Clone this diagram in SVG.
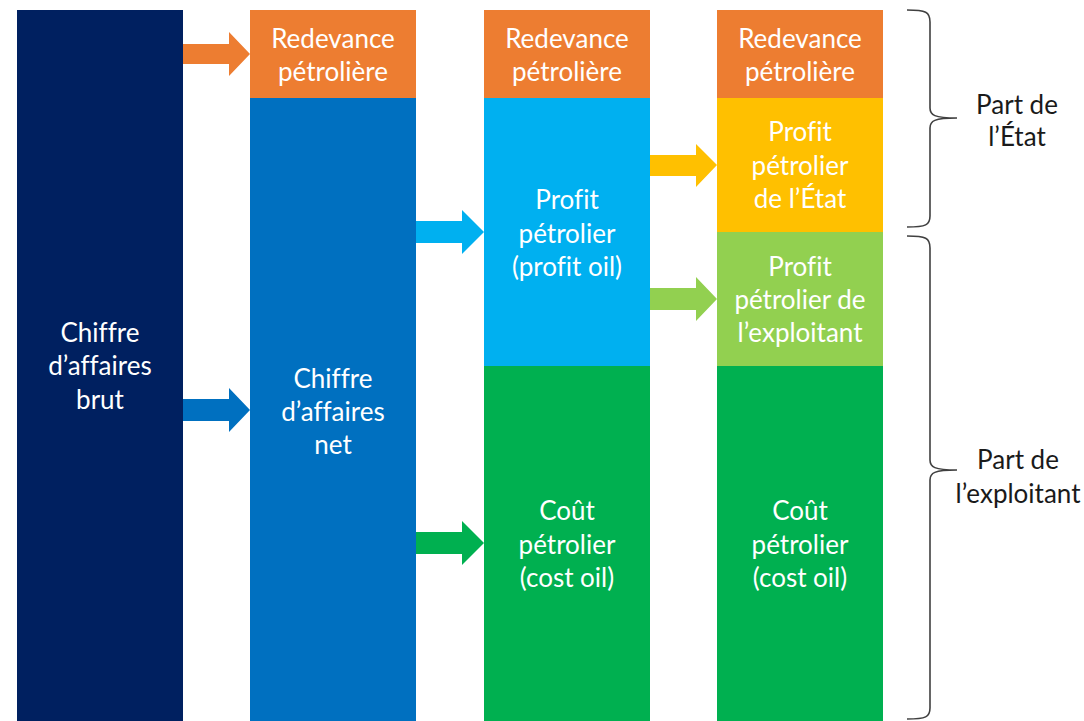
<svg xmlns="http://www.w3.org/2000/svg" width="1084" height="721" viewBox="0 0 1084 721">
<style>
.t{font-family:Lato,"Open Sans","Liberation Sans",sans-serif;font-size:26px;fill:#ffffff;text-anchor:middle;font-variant-ligatures:none}
.k{font-family:Lato,"Open Sans","Liberation Sans",sans-serif;font-size:26px;fill:#1a1a1a;text-anchor:middle}
.br{fill:none;stroke:#404040;stroke-width:1.6}
</style>
<rect width="1084" height="721" fill="#ffffff"/>
<g id="col1">
<rect x="17" y="10" width="166" height="711" fill="#002060"/>
<text class="t" x="100" y="342">Chiffre</text>
<text class="t" x="100" y="375">d’affaires</text>
<text class="t" x="100" y="409">brut</text>
</g>
<g id="col2-redevance">
<rect x="250" y="10" width="166" height="88" fill="#ED7D31"/>
<text class="t" x="333" y="48">Redevance</text>
<text class="t" x="333" y="81">pétrolière</text>
</g>
<g id="col2-net">
<rect x="250" y="98" width="166" height="623" fill="#0070C0"/>
<text class="t" x="333" y="388">Chiffre</text>
<text class="t" x="333" y="421">d’affaires</text>
<text class="t" x="333" y="454">net</text>
</g>
<g id="col3-redevance">
<rect x="484" y="10" width="166" height="88" fill="#ED7D31"/>
<text class="t" x="567" y="48">Redevance</text>
<text class="t" x="567" y="81">pétrolière</text>
</g>
<g id="col3-profit">
<rect x="484" y="98" width="166" height="268" fill="#00B0F0"/>
<text class="t" x="567" y="209">Profit</text>
<text class="t" x="567" y="243">pétrolier</text>
<text class="t" x="567" y="276">(profit oil)</text>
</g>
<g id="col3-cost">
<rect x="484" y="366" width="166" height="355" fill="#00B050"/>
<text class="t" x="567" y="520">Coût</text>
<text class="t" x="567" y="554">pétrolier</text>
<text class="t" x="567" y="587">(cost oil)</text>
</g>
<g id="col4-redevance">
<rect x="717" y="10" width="166" height="88" fill="#ED7D31"/>
<text class="t" x="800" y="48">Redevance</text>
<text class="t" x="800" y="81">pétrolière</text>
</g>
<g id="col4-etat">
<rect x="717" y="98" width="166" height="134" fill="#FFC000"/>
<text class="t" x="800" y="141">Profit</text>
<text class="t" x="800" y="175">pétrolier</text>
<text class="t" x="800" y="208">de l’État</text>
</g>
<g id="col4-exploitant">
<rect x="717" y="232" width="166" height="134" fill="#92D050"/>
<text class="t" x="800" y="276">Profit</text>
<text class="t" x="800" y="309">pétrolier de</text>
<text class="t" x="800" y="342">l’exploitant</text>
</g>
<g id="col4-cost">
<rect x="717" y="366" width="166" height="355" fill="#00B050"/>
<text class="t" x="800" y="520">Coût</text>
<text class="t" x="800" y="554">pétrolier</text>
<text class="t" x="800" y="587">(cost oil)</text>
</g>
<g id="connectors">
<polygon points="183,44 229,44 229,32 250,54 229,76 229,64 183,64" fill="#ED7D31"/>
<polygon points="183,399 229,399 229,388 250,410 229,432 229,421 183,421" fill="#0070C0"/>
<polygon points="416,221 462,221 462,210 484,232 462,254 462,243 416,243" fill="#00B0F0"/>
<polygon points="416,532 462,532 462,521 484,543 462,565 462,554 416,554" fill="#00B050"/>
<polygon points="650,155 696,155 696,144 717,165 696,187 696,176 650,176" fill="#FFC000"/>
<polygon points="650,288 696,288 696,277 717,299 696,321 696,310 650,310" fill="#92D050"/>
</g>
<g id="brace-etat">
<path class="br" d="M907,10 C926,10 930,12 930,22 L930,108 C930,115 934,118 957,118 C934,118 930,121 930,128 L930,216 C930,225 926,227 907,227"/>
<text class="k" x="1017" y="114">Part de</text>
<text class="k" x="1017" y="146">l’État</text>
</g>
<g id="brace-exploitant">
<path class="br" d="M907,236 C926,236 930,238 930,248 L930,460 C930,467 934,470 957,470 C934,470 930,473 930,480 L930,708 C930,717 926,719 907,719"/>
<text class="k" x="1018" y="469">Part de</text>
<text class="k" x="1018" y="503">l’exploitant</text>
</g>
</svg>
